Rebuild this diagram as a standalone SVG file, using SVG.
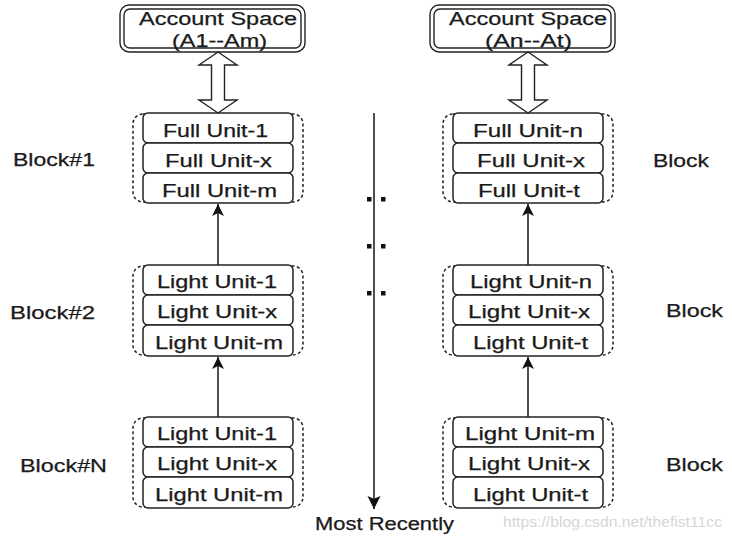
<svg xmlns="http://www.w3.org/2000/svg" width="732" height="540" viewBox="0 0 732 540">
<style>
  text { font-family: "Liberation Sans", Arial, sans-serif; fill: #1a1a1a; stroke: #1a1a1a; stroke-width: 0.25; }
  .u { font-size: 18px; }
  .lbl { font-size: 18px; }
  .unit { fill: #fff; stroke: #222; stroke-width: 1.5; }
  .grp { fill: none; stroke: #222; stroke-width: 1.5; stroke-dasharray: 3 2.5; }
  .acc { fill: #fff; stroke: #222; stroke-width: 1.4; }
  .dbl { fill: #fff; stroke: #222; stroke-width: 1.4; stroke-linejoin: miter; }
  .con { stroke: #222; stroke-width: 1.6; fill: none; }
  .wm { font-size: 15px; fill: #d6d6d6; stroke: none; }
</style>
<defs>
  <marker id="ah" viewBox="0 0 12 12" refX="12" refY="6" markerWidth="12" markerHeight="12" markerUnits="userSpaceOnUse" orient="auto">
    <path d="M0,0 L12,6 L0,12 L3,6 Z" fill="#111"/>
  </marker>
  <marker id="ah2" viewBox="0 0 14 14" refX="14" refY="7" markerWidth="13" markerHeight="14" markerUnits="userSpaceOnUse" orient="auto">
    <path d="M0,0 L14,7 L0,14 L3,7 Z" fill="#111"/>
  </marker>
</defs>

<!-- Left account space -->
<g id="acc-left">
  <rect class="acc" x="120" y="5" width="185" height="47" rx="9"/>
  <rect class="acc" x="124" y="9" width="177" height="39" rx="6"/>
  <text x="139" y="25" font-size="18" textLength="158" lengthAdjust="spacingAndGlyphs">Account Space</text>
  <text x="172" y="47" font-size="18" textLength="95" lengthAdjust="spacingAndGlyphs">(A1--Am)</text>
</g>
<!-- Right account space -->
<g id="acc-right">
  <rect class="acc" x="430" y="5" width="185" height="47" rx="9"/>
  <rect class="acc" x="434" y="9" width="177" height="39" rx="6"/>
  <text x="449" y="25" font-size="18" textLength="158" lengthAdjust="spacingAndGlyphs">Account Space</text>
  <text x="485" y="47" font-size="18" textLength="87" lengthAdjust="spacingAndGlyphs">(An--At)</text>
</g>

<!-- Left block 1 -->
<g id="block-l1">
  <rect class="grp" x="133" y="114" width="170" height="88" rx="10"/>
  <rect class="unit" x="143" y="113" width="150" height="30" rx="5"/>
  <rect class="unit" x="143" y="143" width="150" height="30" rx="5"/>
  <rect class="unit" x="143" y="173" width="150" height="30" rx="5"/>
  <text class="u" x="163" y="137" textLength="105" lengthAdjust="spacingAndGlyphs">Full Unit-1</text>
  <text class="u" x="165" y="167" textLength="107" lengthAdjust="spacingAndGlyphs">Full Unit-x</text>
  <text class="u" x="162" y="197" textLength="115" lengthAdjust="spacingAndGlyphs">Full Unit-m</text>
</g>
<!-- Left block 2 -->
<g id="block-l2">
  <rect class="grp" x="133" y="266" width="170" height="89" rx="10"/>
  <rect class="unit" x="143" y="265" width="150" height="30" rx="5"/>
  <rect class="unit" x="143" y="295" width="150" height="30" rx="5"/>
  <rect class="unit" x="143" y="325" width="150" height="31" rx="5"/>
  <text class="u" x="157" y="288" textLength="120" lengthAdjust="spacingAndGlyphs">Light Unit-1</text>
  <text class="u" x="157" y="318" textLength="120" lengthAdjust="spacingAndGlyphs">Light Unit-x</text>
  <text class="u" x="155" y="349" textLength="128" lengthAdjust="spacingAndGlyphs">Light Unit-m</text>
</g>
<!-- Left block N -->
<g id="block-l3">
  <rect class="grp" x="133" y="418" width="170" height="89" rx="10"/>
  <rect class="unit" x="143" y="417" width="150" height="30" rx="5"/>
  <rect class="unit" x="143" y="447" width="150" height="30" rx="5"/>
  <rect class="unit" x="143" y="477" width="150" height="31" rx="5"/>
  <text class="u" x="157" y="440" textLength="120" lengthAdjust="spacingAndGlyphs">Light Unit-1</text>
  <text class="u" x="157" y="470" textLength="120" lengthAdjust="spacingAndGlyphs">Light Unit-x</text>
  <text class="u" x="155" y="501" textLength="128" lengthAdjust="spacingAndGlyphs">Light Unit-m</text>
</g>

<!-- Right block 1 -->
<g id="block-r1">
  <rect class="grp" x="443" y="114" width="170" height="88" rx="10"/>
  <rect class="unit" x="453" y="113" width="150" height="30" rx="5"/>
  <rect class="unit" x="453" y="143" width="150" height="30" rx="5"/>
  <rect class="unit" x="453" y="173" width="150" height="30" rx="5"/>
  <text class="u" x="473" y="137" textLength="110" lengthAdjust="spacingAndGlyphs">Full Unit-n</text>
  <text class="u" x="477" y="167" textLength="108" lengthAdjust="spacingAndGlyphs">Full Unit-x</text>
  <text class="u" x="478" y="197" textLength="102" lengthAdjust="spacingAndGlyphs">Full Unit-t</text>
</g>
<!-- Right block 2 -->
<g id="block-r2">
  <rect class="grp" x="443" y="266" width="170" height="89" rx="10"/>
  <rect class="unit" x="453" y="265" width="150" height="30" rx="5"/>
  <rect class="unit" x="453" y="295" width="150" height="30" rx="5"/>
  <rect class="unit" x="453" y="325" width="150" height="31" rx="5"/>
  <text class="u" x="470" y="288" textLength="122" lengthAdjust="spacingAndGlyphs">Light Unit-n</text>
  <text class="u" x="468" y="318" textLength="122" lengthAdjust="spacingAndGlyphs">Light Unit-x</text>
  <text class="u" x="473" y="349" textLength="115" lengthAdjust="spacingAndGlyphs">Light Unit-t</text>
</g>
<!-- Right block 3 -->
<g id="block-r3">
  <rect class="grp" x="443" y="418" width="170" height="89" rx="10"/>
  <rect class="unit" x="453" y="417" width="150" height="30" rx="5"/>
  <rect class="unit" x="453" y="447" width="150" height="30" rx="5"/>
  <rect class="unit" x="453" y="477" width="150" height="31" rx="5"/>
  <text class="u" x="465" y="440" textLength="130" lengthAdjust="spacingAndGlyphs">Light Unit-m</text>
  <text class="u" x="468" y="470" textLength="122" lengthAdjust="spacingAndGlyphs">Light Unit-x</text>
  <text class="u" x="473" y="501" textLength="115" lengthAdjust="spacingAndGlyphs">Light Unit-t</text>
</g>

<!-- Block labels -->
<g id="labels">
  <text class="lbl" x="13" y="166" textLength="82" lengthAdjust="spacingAndGlyphs">Block#1</text>
  <text class="lbl" x="10" y="319" textLength="85" lengthAdjust="spacingAndGlyphs">Block#2</text>
  <text class="lbl" x="20" y="472" textLength="87" lengthAdjust="spacingAndGlyphs">Block#N</text>
  <text class="lbl" x="653" y="167" textLength="56" lengthAdjust="spacingAndGlyphs">Block</text>
  <text class="lbl" x="666" y="317" textLength="57" lengthAdjust="spacingAndGlyphs">Block</text>
  <text class="lbl" x="666" y="471" textLength="57" lengthAdjust="spacingAndGlyphs">Block</text>
</g>

<!-- Connectors -->
<g id="connectors">
  <polygon class="dbl" points="218,52 237,65 224.5,65 224.5,100 237,100 218,113 199,100 211.5,100 211.5,65 199,65"/>
  <polygon class="dbl" points="528,52 547,65 534.5,65 534.5,100 547,100 528,113 509,100 521.5,100 521.5,65 509,65"/>
  <line class="con" x1="218" y1="265" x2="218" y2="204" marker-end="url(#ah)"/>
  <line class="con" x1="218" y1="417" x2="218" y2="357" marker-end="url(#ah)"/>
  <line class="con" x1="528" y1="265" x2="528" y2="204" marker-end="url(#ah)"/>
  <line class="con" x1="528" y1="417" x2="528" y2="357" marker-end="url(#ah)"/>
  <line class="con" x1="374" y1="113" x2="374" y2="509" marker-end="url(#ah2)"/>
</g>

<!-- Timeline dots -->
<g id="dots" fill="#111">
  <rect x="367" y="197" width="4.5" height="4.5"/>
  <rect x="381" y="197" width="4.5" height="4.5"/>
  <rect x="367" y="244" width="4.5" height="4.5"/>
  <rect x="381" y="244" width="4.5" height="4.5"/>
  <rect x="367" y="291" width="4.5" height="4.5"/>
  <rect x="381" y="291" width="4.5" height="4.5"/>
</g>

<g id="most-recently">
  <text x="315" y="530" font-size="18" textLength="139" lengthAdjust="spacingAndGlyphs">Most Recently</text>
</g>

<text class="wm" x="503" y="527" textLength="219" lengthAdjust="spacingAndGlyphs">https://blog.csdn.net/thefist11cc</text>
</svg>
